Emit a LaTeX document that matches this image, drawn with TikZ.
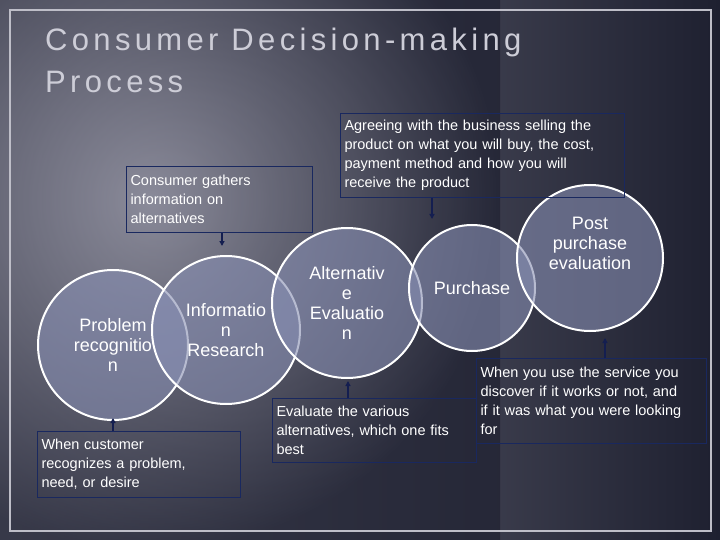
\documentclass[tikz,border=0pt]{standalone}
\usepackage{fontspec}
\setmainfont{Liberation Sans}
\usetikzlibrary{arrows.meta}
\definecolor{bgdark}{RGB}{30,32,48}
\definecolor{bglight}{RGB}{155,155,170}
\definecolor{circfill}{RGB}{135,142,178}
\definecolor{navy}{RGB}{25,40,95}
\definecolor{arrnavy}{RGB}{20,30,80}
\definecolor{frame}{RGB}{190,190,200}
\definecolor{titlec}{RGB}{205,205,215}
\begin{document}
\begin{tikzpicture}[x=1pt,y=-1pt,
  circ/.style={circle,draw=white,line width=2pt,fill=circfill,fill opacity=0.6,text opacity=1,text=white,font=\fontsize{18}{20}\selectfont,align=center,inner sep=0pt},
  note/.style={draw=navy,line width=1pt,text=white,font=\fontsize{14.5}{19}\selectfont,align=left,anchor=north west,inner sep=4pt},
  conn/.style={draw=arrnavy,line width=1.5pt,-{Triangle[length=5pt,width=5pt]}}]
\useasboundingbox (0,0) rectangle (720,540);
\shade[left color=bglight!70!bgdark,right color=bgdark] (0,0) rectangle (720,540);
\shade[inner color=bglight,outer color=bgdark,opacity=0.7] (-200,-150) rectangle (500,550);
\draw[frame,line width=1.5pt] (10,10) rectangle (711,531);
\node[anchor=north west,text=titlec,font=\fontsize{31}{42}\selectfont,align=left,inner sep=0] (title) at (45,28) {\addfontfeatures{LetterSpace=14}Consumer Decision-making\\\addfontfeatures{LetterSpace=14}Process};
\node[circ,minimum size=150pt] (c1) at (113,345) {Problem\\recognitio\\n};
\node[circ,minimum size=148pt] (c2) at (226,330) {Informatio\\n\\Research};
\node[circ,minimum size=150pt] (c3) at (347,303) {Alternativ\\e\\Evaluatio\\n};
\node[circ,minimum size=126pt] (c4) at (472,288) {Purchase};
\node[circ,minimum size=146pt] (c5) at (590,258) {Post\\purchase\\evaluation\\[10pt]};
\node[note,text width=178pt,minimum height=66pt] (b1) at (126,166) {Consumer gathers\\information on\\alternatives};
\node[note,text width=276pt,minimum height=84pt] (b2) at (340,113) {Agreeing with the business selling the\\product on what you will buy, the cost,\\payment method and how you will\\receive the product};
\node[note,text width=195pt,minimum height=66pt] (b3) at (37,431) {When customer\\recognizes a problem,\\need, or desire};
\node[note,text width=196pt,minimum height=64pt] (b4) at (272,398) {Evaluate the various\\alternatives, which one fits\\best};
\node[note,text width=222pt,minimum height=85pt] (b5) at (476,358) {When you use the service you\\discover if it works or not, and\\if it was what you were looking\\for};
\draw[conn] (b1.south -| 222,0) -- (222,246);
\draw[conn] (b2.south -| 432,0) -- (432,219);
\draw[conn] (b3.north -| 113,0) -- (113,418);
\draw[conn] (b4.north -| 348,0) -- (348,381);
\draw[conn] (b5.north -| 605,0) -- (605,338);
\end{tikzpicture}
\end{document}
